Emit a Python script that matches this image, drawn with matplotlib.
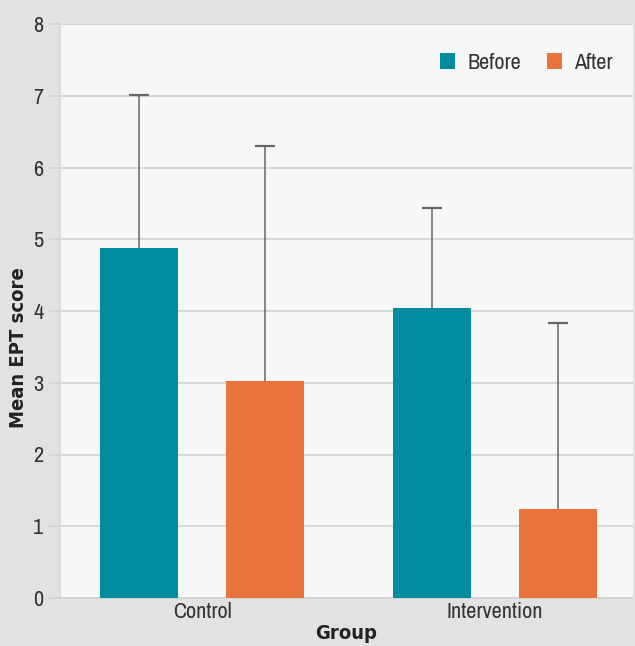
import numpy as np
import matplotlib
matplotlib.use("Agg")
import matplotlib.pyplot as plt
from matplotlib import font_manager

groups = ["Control", "Intervention"]
series = ["Before", "After"]
means = {"Before": [4.88, 4.04], "After": [3.02, 1.24]}
upper_err = {"Before": [2.13, 1.40], "After": [3.28, 2.59]}
colors = {"Before": "#008c9e", "After": "#e8743b"}

# look for a narrow font; fall back to DejaVu condensed
narrow = sorted({f.name for f in font_manager.fontManager.ttflist
                 if "Narrow" in f.name or "Condensed" in f.name})
plt.rcParams["font.family"] = narrow[:1] + ["DejaVu Sans"]
plt.rcParams["font.stretch"] = "condensed"

fig = plt.figure(figsize=(6.35, 6.46), dpi=100, facecolor="#e3e2e0")
ax = fig.add_axes([60 / 635, 48 / 646, 573 / 635, 574 / 646])
ax.set_facecolor("#f7f7f7")

x = np.arange(len(groups))
offset = 0.215
width = 0.266
for i, s in enumerate(series):
    pos = x + (offset if i else -offset)
    tops = np.array(means[s]) + np.array(upper_err[s])
    ax.bar(pos, means[s], width, color=colors[s], label=s, zorder=3)
    ax.vlines(pos, means[s], tops, color="#666666", linewidth=1.1, zorder=2)
    ax.plot(pos, tops, ls="none", marker="_", ms=15, mew=1.6,
            color="#666666", zorder=2)

ax.set_xlim(-0.485, 1.471)
ax.set_ylim(0, 8)
ax.set_yticks(range(9))
ax.set_xticks(x)
ax.set_xticklabels(groups)
ax.grid(axis="y", color="#d2d2d2", linewidth=1.2, zorder=0)
ax.tick_params(axis="y", length=8, color="#d2d2d2", width=1.2, pad=4,
               labelsize=16, labelcolor="#333333")
ax.tick_params(axis="x", length=0, pad=3, labelsize=16, labelcolor="#333333")
for side in ["top", "right"]:
    ax.spines[side].set_visible(False)
ax.spines["left"].set_color("#d8d8d8")
ax.spines["left"].set_linewidth(1.2)
ax.spines["bottom"].set_color("#d2d2d2")
ax.spines["bottom"].set_linewidth(1.2)

bold = dict(family="DejaVu Sans", stretch="condensed", fontweight="bold",
            fontsize=14.5, color="#222222")
ax.set_ylabel("Mean EPT score", **bold)
ax.yaxis.set_label_coords(-0.055, 0.436)
ax.set_xlabel("Group", labelpad=1, **bold)

ax.legend(loc="upper right", ncol=2, frameon=False, fontsize=16,
          handlelength=0.7, handleheight=0.7, handletextpad=0.55,
          columnspacing=1.15, labelcolor="#333333",
          bbox_to_anchor=(1.0, 0.985))

fig.savefig("out.png", dpi=100, facecolor=fig.get_facecolor())
